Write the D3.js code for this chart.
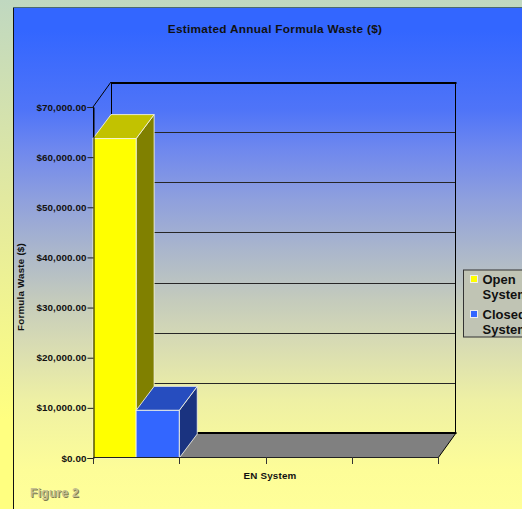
<!DOCTYPE html>
<html>
<head>
<meta charset="utf-8">
<script src="https://cdn.jsdelivr.net/npm/d3@7"></script>
<style>
html,body{margin:0;padding:0;overflow:hidden;background:#ffff80}
text{font-family:"Liberation Sans",Arial,sans-serif;font-weight:bold;fill:#111}
</style>
</head>
<body>
<svg id="chart" width="522" height="509"></svg>
<script>
// Chart contents
const titleText = "Estimated Annual Formula Waste ($)";
const xAxisTitle = "EN System";
const yAxisTitle = "Formula Waste ($)";
const footnote = "Figure 2";
const categories = ["A", "B", "C", "D"];
const seriesNames = ["Open", "Closed"];
const legendLines = [["Open", "System"], ["Closed", "System"]];
const openValues = [63700, null, null, null];
const closedValues = [9500, null, null, null];
const yTicks = [0, 10000, 20000, 30000, 40000, 50000, 60000, 70000];

// Colours
const faces = {
  Open: {front: "#ffff00", top: "#c2c200", side: "#808000"},
  Closed: {front: "#3366ff", top: "#264dbf", side: "#1a3380"}
};

const svg = d3.select("#chart");
const defs = svg.append("defs");

function verticalGradient(id, stops, y1, y2) {
  const g = defs.append("linearGradient").attr("id", id)
    .attr("gradientUnits", "userSpaceOnUse")
    .attr("x1", 0).attr("x2", 0).attr("y1", y1).attr("y2", y2);
  stops.forEach(([o, c]) => g.append("stop").attr("offset", o).attr("stop-color", c));
}
verticalGradient("outerFill", [[0, "#c0d8c0"], [0.5, "#e4ea9e"], [1, "#ffff80"]], 0, 420);
// Panel fill: stops given along the page height
verticalGradient("panelFill", [
  [30 / 509, "#3366ff"], [110 / 509, "#4f74f8"], [150 / 509, "#6f88ee"], [200 / 509, "#8fa0dd"],
  [250 / 509, "#aab6cc"], [300 / 509, "#c4cbbc"], [340 / 509, "#d6dab4"], [400 / 509, "#eef0a4"],
  [470 / 509, "#fdfd98"], [1, "#ffff99"]
], 0, 509);

// Page and panel backgrounds
svg.append("rect").attr("width", 522).attr("height", 509).attr("fill", "url(#outerFill)");
svg.append("rect").attr("x", 13.5).attr("y", 8).attr("width", 520).attr("height", 520)
  .attr("fill", "url(#panelFill)");
svg.append("line").attr("x1", 13.5).attr("x2", 13.5).attr("y1", 8).attr("y2", 509)
  .attr("stroke", "#111").attr("stroke-width", 1);
svg.append("line").attr("x1", 13).attr("x2", 522).attr("y1", 7.5).attr("y2", 7.5)
  .attr("stroke", "#4a6a70").attr("stroke-width", 1);

// Scales: front plane of the 3D box, with a fixed depth offset to the back wall
const depthX = 18, depthY = -25;
const x = d3.scaleBand().domain(categories).range([93, 438]);
const y = d3.scaleLinear().domain([0, 70000]).range([458, 107]);
const barBand = d3.scaleBand().domain(seriesNames).range([0, x.bandwidth()]);

const pts = p => p.map(a => a.join(",")).join(" ");
const x0 = x.range()[0], x1 = x.range()[1];
const yBase = y(0), yTop = y(70000);
const crisp = v => Math.round(v) + 0.5;

// Floor
svg.append("polygon")
  .attr("points", pts([[x0, yBase], [x1, yBase], [x1 + depthX, yBase + depthY], [x0 + depthX, yBase + depthY]]))
  .attr("fill", "#808080");

// Back-wall gridlines
svg.append("g").selectAll("line").data(yTicks.filter(d => d > 0 && d < 70000)).join("line")
  .attr("x1", x0 + depthX).attr("x2", x1 + depthX)
  .attr("y1", d => Math.floor(y(d) + depthY + 0.5) + 0.5).attr("y2", d => Math.floor(y(d) + depthY + 0.5) + 0.5)
  .attr("stroke", "#262626").attr("stroke-width", 1);

// Wall frame
const frame = svg.append("g").attr("fill", "none").attr("stroke", "#000");
frame.append("line").attr("x1", x0 + depthX).attr("x2", x1 + depthX + 0.5)
  .attr("y1", Math.round(yTop + depthY) + 1).attr("y2", Math.round(yTop + depthY) + 1).attr("stroke-width", 2);
frame.append("line").attr("x1", x0 + depthX).attr("x2", x1 + depthX + 0.5)
  .attr("y1", Math.round(yBase + depthY)).attr("y2", Math.round(yBase + depthY)).attr("stroke-width", 2);
frame.append("line").attr("x1", x0 + depthX + 0.5).attr("x2", x0 + depthX + 0.5)
  .attr("y1", yTop + depthY).attr("y2", yBase + depthY);
frame.append("line").attr("x1", x1 + depthX - 0.5).attr("x2", x1 + depthX - 0.5)
  .attr("y1", yTop + depthY).attr("y2", yBase + depthY);
frame.append("line").attr("x1", x0).attr("y1", yTop).attr("x2", x0 + depthX).attr("y2", yTop + depthY);
frame.append("line").attr("x1", x1).attr("y1", yBase).attr("x2", x1 + depthX).attr("y2", yBase + depthY);
frame.append("line").attr("x1", x0 + 0.5).attr("x2", x0 + 0.5).attr("y1", yTop).attr("y2", yBase);

// 3D bars
const series = [
  {name: "Open", values: openValues},
  {name: "Closed", values: closedValues}
];
const barDepthX = 18, barDepthY = -24;
const barsG = svg.append("g");
series.forEach(s => {
  categories.forEach((c, i) => {
    const v = s.values[i];
    if (v == null) return;
    const bx = x(c) + barBand(s.name);
    const bw = barBand.bandwidth();
    const by = y(v), b0 = y(0);
    const c3 = faces[s.name];
    const g = barsG.append("g").attr("stroke", "#f4f4e4").attr("stroke-width", 1).attr("stroke-opacity", 0.85);
    g.append("polygon").attr("fill", c3.side)
      .attr("points", pts([[bx + bw, by], [bx + bw + barDepthX, by + barDepthY], [bx + bw + barDepthX, b0 + barDepthY], [bx + bw, b0]]));
    g.append("polygon").attr("fill", c3.top)
      .attr("points", pts([[bx, by], [bx + barDepthX, by + barDepthY], [bx + bw + barDepthX, by + barDepthY], [bx + bw, by]]));
    g.append("rect").attr("fill", c3.front).attr("x", bx).attr("y", by).attr("width", bw).attr("height", b0 - by);
  });
});

// Value axis
const yAxis = d3.axisLeft(y).tickValues(yTicks).tickSize(6).tickPadding(1)
  .tickFormat(d => "$" + d3.format(",.2f")(d));
const yG = svg.append("g").attr("transform", `translate(${x0 + 0.5},0)`).call(yAxis);
yG.select(".domain").attr("stroke", "#000");
yG.selectAll(".tick line").attr("stroke", "#222");
yG.selectAll("text").style("font-size", "9.8px").style("letter-spacing", "0.1px")
  .style("font-family", '"Liberation Sans",Arial,sans-serif');

// Category axis: ticks mark band edges
const edges = categories.map(c => x(c)).concat([x1]);
const axisG = svg.append("g");
axisG.append("line").attr("x1", x0).attr("x2", x1).attr("y1", crisp(yBase) - 1).attr("y2", crisp(yBase) - 1)
  .attr("stroke", "#222");
axisG.selectAll("line.tick").data(edges).join("line").attr("class", "tick")
  .attr("x1", crisp).attr("x2", crisp)
  .attr("y1", yBase - 1).attr("y2", yBase + 6).attr("stroke", "#333");

// Titles
svg.append("text").attr("x", 275).attr("y", 33).attr("text-anchor", "middle")
  .style("font-size", "11.8px").style("letter-spacing", "0.3px").text(titleText);
svg.append("text").attr("x", 270).attr("y", 479).attr("text-anchor", "middle")
  .style("font-size", "9.8px").style("letter-spacing", "0.2px").text(xAxisTitle);
svg.append("text").attr("transform", "translate(24,287) rotate(-90)").attr("text-anchor", "middle")
  .style("font-size", "9.8px").style("letter-spacing", "0.2px").text(yAxisTitle);

// Footnote with a soft drop shadow
svg.append("text").attr("x", 31).attr("y", 498).style("font-size", "12px")
  .style("letter-spacing", "0.3px").style("fill", "#807c50").text(footnote);
svg.append("text").attr("x", 30).attr("y", 497).style("font-size", "12px")
  .style("letter-spacing", "0.3px").style("fill", "#c4c090").text(footnote);

// Legend, running past the right edge of the page
const legend = svg.append("g");
legend.append("rect").attr("x", 463.5).attr("y", 270).attr("width", 80).attr("height", 67)
  .attr("fill", "#c0c4b4").attr("stroke", "#333").attr("stroke-width", 1);
const legendRow = d3.scaleOrdinal().domain(seriesNames).range([279, 314]);
seriesNames.forEach((name, i) => {
  const ly = legendRow(name);
  legend.append("rect").attr("x", 470.5).attr("y", ly - 3.5).attr("width", 7).attr("height", 7)
    .attr("fill", faces[name].front).attr("stroke", "#eee");
  legendLines[i].forEach((t, j) => {
    legend.append("text").attr("x", 482.5).attr("y", ly + 5 + j * 15)
      .style("font-size", "13px").text(t);
  });
});
</script>
</body>
</html>
